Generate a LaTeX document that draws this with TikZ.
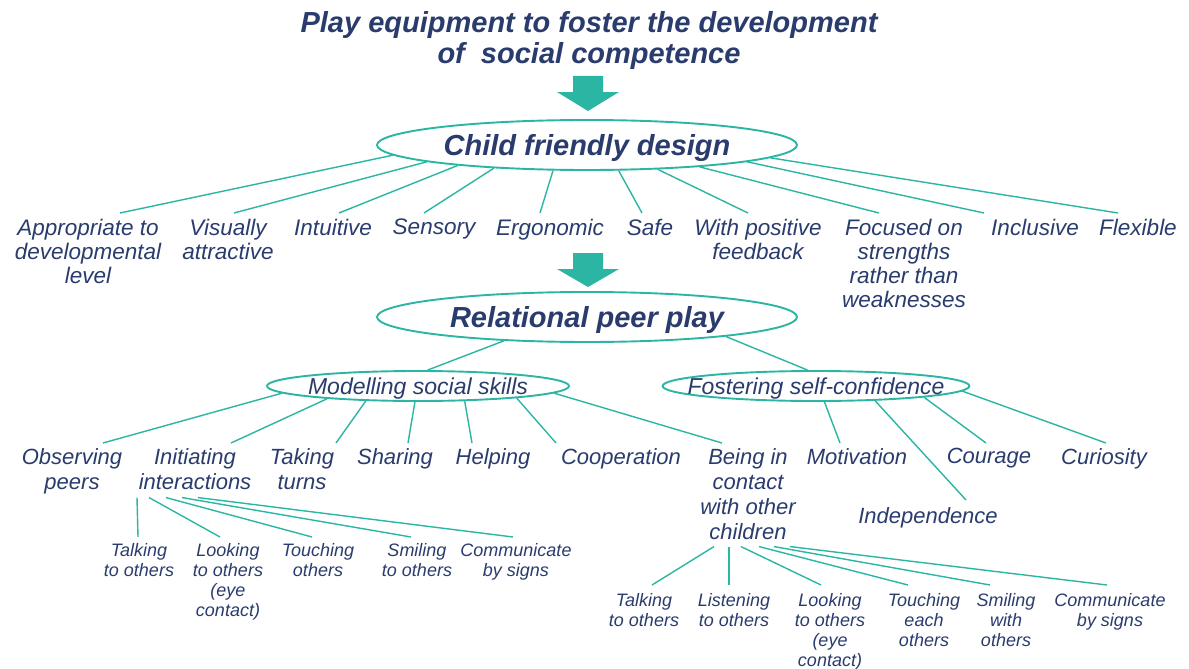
\documentclass[tikz,border=0pt]{standalone}
\usepackage{fontspec}
\setmainfont{Liberation Sans}
\usetikzlibrary{shapes.geometric}
\definecolor{inkcolor}{RGB}{42,60,110}
\definecolor{tealcolor}{RGB}{43,182,163}

\begin{document}
\begin{tikzpicture}[
    x=1pt, y=-1pt,
    hub/.style={ellipse, draw=tealcolor, line width=1.9pt, inner xsep=-20pt, inner ysep=0pt, text depth=0pt, text=inkcolor},
    bighub/.style={hub, minimum width=420pt, minimum height=50pt, font=\bfseries\itshape\fontsize{29}{30}\selectfont},
    smallhub/.style={hub, minimum width=302pt, minimum height=30pt, font=\itshape\fontsize{23}{25}\selectfont},
    item/.style={align=center, anchor=north, inner sep=0pt, text=inkcolor, font=\itshape\fontsize{22.5}{24}\selectfont},
    skill/.style={item, font=\itshape\fontsize{22}{25}\selectfont},
    act/.style={item, font=\itshape\fontsize{18}{20}\selectfont},
    link/.style={draw=tealcolor, line width=1.4pt},
    bigarrow/.style={fill=tealcolor}
]
\useasboundingbox (0,0) rectangle (1189,669);
\fill[white] (0,0) rectangle (1189,669);

% heading and the two block arrows
\node[anchor=north, align=center, inner sep=0pt, text=inkcolor, font=\bfseries\itshape\fontsize{29}{31}\selectfont] (title) at (589,11) {Play equipment to foster the development\\of\ \ social competence};
\fill[bigarrow] (573,76) -- ++(30,0) -- ++(0,16) -- ++(16,0) -- ++(-31,19) -- ++(-31,-19) -- ++(16,0) -- cycle;
\fill[bigarrow] (573,253) -- ++(30,0) -- ++(0,16) -- ++(16,0) -- ++(-31,18) -- ++(-31,-18) -- ++(16,0) -- cycle;

% design level
\node[bighub] (cfd) at (587,145) {Child friendly design};
\node[item] (app) at (88,219) {Appropriate to\\developmental\\level};
\node[item] (vis) at (228,219) {Visually\\attractive};
\node[item] (int) at (333,219) {Intuitive};
\node[item] (sen) at (434,219) {Sensory};
\node[item] (erg) at (550,219) {Ergonomic};
\node[item] (safe) at (650,219) {Safe};
\node[item] (fdb) at (758,219) {With positive\\feedback};
\node[item] (str) at (904,219) {Focused on\\strengths\\rather than\\weaknesses};
\node[item] (inc) at (1035,219) {Inclusive};
\node[item] (flx) at (1138,219) {Flexible};

\draw[link] (cfd.183) -- ([xshift=32pt,yshift=6pt]app.north);
\draw[link] (cfd.186) -- ([xshift=6pt,yshift=6pt]vis.north);
\draw[link] (cfd.189) -- ([xshift=6pt,yshift=6pt]int.north);
\draw[link] (cfd.194) -- ([xshift=-10pt,yshift=6pt]sen.north);
\draw[link] (cfd.217) -- ([xshift=-10pt,yshift=6pt]erg.north);
\draw[link] (cfd.321) -- ([xshift=-8pt,yshift=6pt]safe.north);
\draw[link] (cfd.341) -- ([xshift=-10pt,yshift=6pt]fdb.north);
\draw[link] (cfd.349) -- ([xshift=-25pt,yshift=6pt]str.north);
\draw[link] (cfd.354) -- ([xshift=-51pt,yshift=6pt]inc.north);
\draw[link] (cfd.356) -- ([xshift=-20pt,yshift=6pt]flx.north);

% play level
\node[bighub] (rpp) at (587,317) {Relational peer play};
\node[smallhub] (mss) at (418,386) {Modelling social skills};
\node[smallhub] (fsc) at (816,386) {Fostering self-confidence};
\draw[link] (rpp.196) -- (mss.59);
\draw[link] (rpp.352) -- (fsc.118);

\node[skill] (obs) at (72,448) {Observing\\peers};
\node[skill] (ini) at (195,448) {Initiating\\interactions};
\node[skill] (tak) at (302,448) {Taking\\turns};
\node[skill] (sha) at (395,448) {Sharing};
\node[skill] (hlp) at (493,448) {Helping};
\node[skill] (coop) at (621,448) {Cooperation};
\node[skill] (bein) at (748,448) {Being in\\contact\\with other\\children};
\node[skill] (mot) at (857,448) {Motivation};
\node[skill] (ind) at (928,507) {Independence};
\node[skill] (cou) at (989,448) {Courage};
\node[skill] (cur) at (1104,448) {Curiosity};

\draw[link] (mss.183) -- ([xshift=31pt,yshift=5pt]obs.north);
\draw[link] (mss.188) -- ([xshift=36pt,yshift=5pt]ini.north);
\draw[link] (mss.196) -- ([xshift=34pt,yshift=5pt]tak.north);
\draw[link] (mss.259) -- ([xshift=13pt,yshift=5pt]sha.north);
\draw[link] (mss.342) -- ([xshift=-21pt,yshift=5pt]hlp.north);
\draw[link] (mss.353) -- ([xshift=-65pt,yshift=5pt]coop.north);
\draw[link] (mss.357) -- ([xshift=-26pt,yshift=5pt]bein.north);
\draw[link] (fsc.298) -- ([xshift=-17pt,yshift=5pt]mot.north);
\draw[link] (fsc.346) -- ([xshift=38pt,yshift=7pt]ind.north);
\draw[link] (fsc.354) -- ([xshift=-3pt,yshift=5pt]cou.north);
\draw[link] (fsc.358) -- ([xshift=2pt,yshift=5pt]cur.north);

% ways of initiating interactions
\node[act] (talk1) at (139,543) {Talking\\to others};
\node[act] (look1) at (228,543) {Looking\\to others\\(eye\\contact)};
\node[act] (touch1) at (318,543) {Touching\\others};
\node[act] (smile1) at (417,543) {Smiling\\to others};
\node[act] (sign1) at (516,543) {Communicate\\by signs};

\draw[link] ([xshift=-58pt,yshift=-8pt]ini.south) -- ([xshift=-1pt,yshift=6pt]talk1.north);
\draw[link] ([xshift=-46pt,yshift=-8pt]ini.south) -- ([xshift=-8pt,yshift=6pt]look1.north);
\draw[link] ([xshift=-29pt,yshift=-8pt]ini.south) -- ([xshift=-6pt,yshift=6pt]touch1.north);
\draw[link] ([xshift=-13pt,yshift=-8pt]ini.south) -- ([xshift=-6pt,yshift=6pt]smile1.north);
\draw[link] ([xshift=3pt,yshift=-8pt]ini.south) -- ([xshift=-3pt,yshift=6pt]sign1.north);

% ways of being in contact
\node[act] (talk2) at (644,593) {Talking\\to others};
\node[act] (listen2) at (734,593) {Listening\\to others};
\node[act] (look2) at (830,593) {Looking\\to others\\(eye\\contact)};
\node[act] (touch2) at (924,593) {Touching\\each\\others};
\node[act] (smile2) at (1006,593) {Smiling\\with\\others};
\node[act] (sign2) at (1110,593) {Communicate\\by signs};

\draw[link] ([xshift=-34pt,yshift=-7pt]bein.south) -- ([xshift=8pt,yshift=8pt]talk2.north);
\draw[link] ([xshift=-19pt,yshift=-7pt]bein.south) -- ([xshift=-5pt,yshift=8pt]listen2.north);
\draw[link] ([xshift=-7pt,yshift=-7pt]bein.south) -- ([xshift=-9pt,yshift=8pt]look2.north);
\draw[link] ([xshift=11pt,yshift=-7pt]bein.south) -- ([xshift=-16pt,yshift=8pt]touch2.north);
\draw[link] ([xshift=26pt,yshift=-7pt]bein.south) -- ([xshift=-16pt,yshift=8pt]smile2.north);
\draw[link] ([xshift=42pt,yshift=-7pt]bein.south) -- ([xshift=-3pt,yshift=8pt]sign2.north);
\end{tikzpicture}
\end{document}
